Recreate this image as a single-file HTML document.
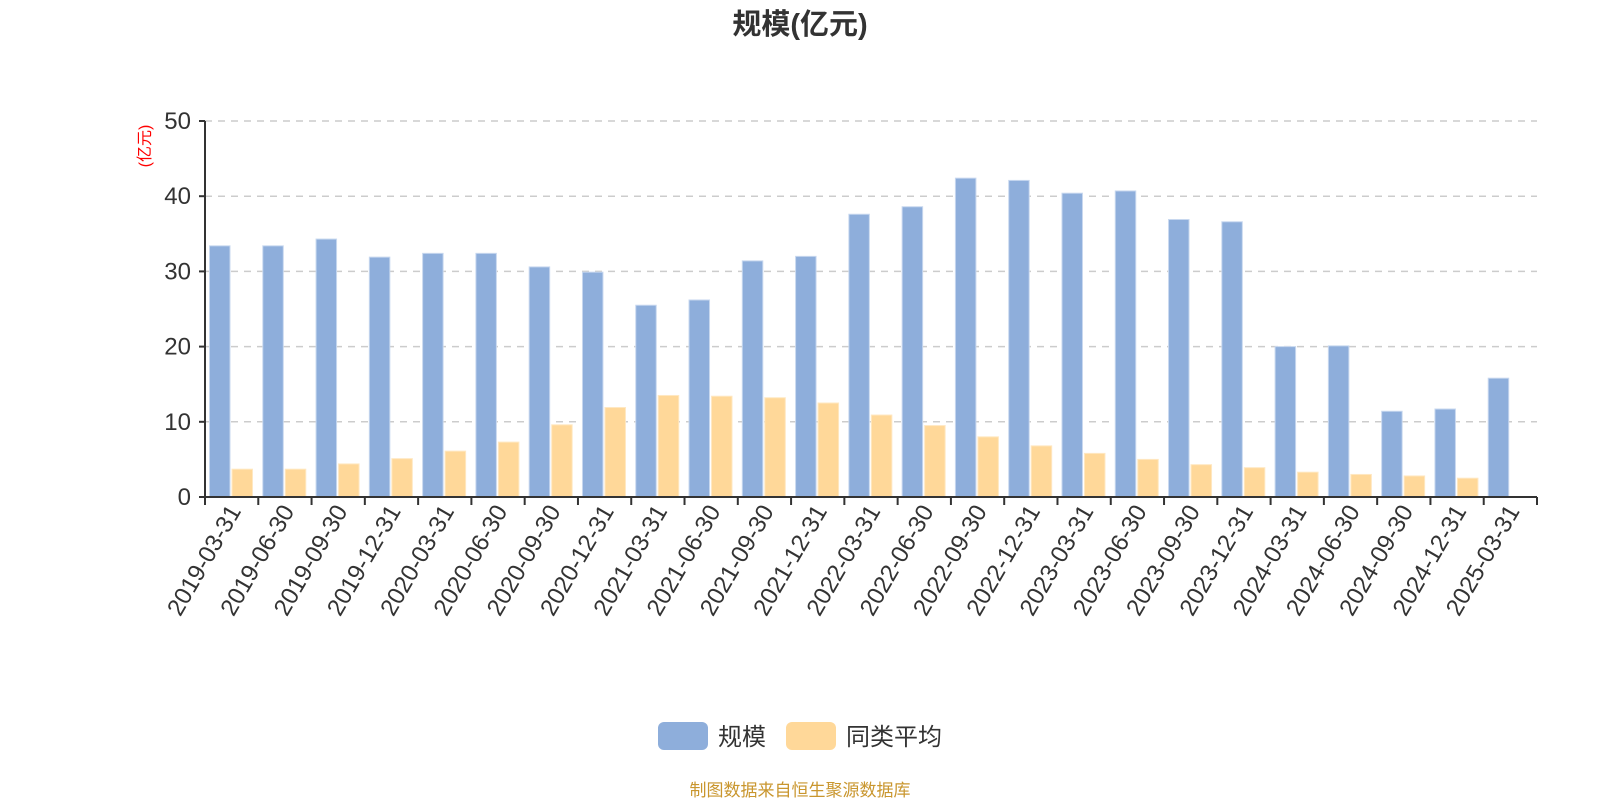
<!DOCTYPE html>
<html><head><meta charset="utf-8"><style>
body{margin:0;background:#fff;width:1600px;height:800px;overflow:hidden;font-family:"Liberation Sans","Noto Sans CJK SC",sans-serif}
</style></head><body>
<svg id="chart" width="1600" height="800" xmlns="http://www.w3.org/2000/svg" font-family="Liberation Sans, Noto Sans CJK SC, sans-serif">
<text x="800" y="34" text-anchor="middle" font-size="29" font-weight="bold" fill="#333">规模(亿元)</text>
<text transform="translate(150,146) rotate(-90)" text-anchor="middle" font-size="16" fill="#ff0000">(亿元)</text>
<g id="grid"></g><g id="bars"></g><g id="axes"></g>
<g>
<g><rect x="658" y="722" width="50" height="28" rx="6" fill="#8eaedb"/><text x="718" y="745" font-size="24" fill="#333">规模</text></g>
<g><rect x="786" y="722" width="50" height="28" rx="6" fill="#ffd899"/><text x="846" y="745" font-size="24" fill="#333">同类平均</text></g>
</g>
<text x="800" y="796" text-anchor="middle" font-size="17" fill="#c9962e">制图数据来自恒生聚源数据库</text>
</svg>
<script>
const categories=["2019-03-31","2019-06-30","2019-09-30","2019-12-31","2020-03-31","2020-06-30","2020-09-30","2020-12-31","2021-03-31","2021-06-30","2021-09-30","2021-12-31","2022-03-31","2022-06-30","2022-09-30","2022-12-31","2023-03-31","2023-06-30","2023-09-30","2023-12-31","2024-03-31","2024-06-30","2024-09-30","2024-12-31","2025-03-31"];
const scaleValues=[33.4,33.4,34.3,31.9,32.4,32.4,30.6,29.9,25.5,26.2,31.4,32.0,37.6,38.6,42.4,42.1,40.4,40.7,36.9,36.6,20.0,20.1,11.4,11.7,15.8];
const avgValues=[3.7,3.7,4.4,5.1,6.1,7.3,9.6,11.9,13.5,13.4,13.2,12.5,10.9,9.5,8.0,6.8,5.8,5.0,4.3,3.9,3.3,3.0,2.8,2.5,null];
const yTicks=[0,10,20,30,40,50];
const NS="http://www.w3.org/2000/svg";
const X0=205,X1=1537,Y0=497,Y1=121,YMAX=50;
const band=(X1-X0)/categories.length;
const y=v=>Y0-(v/YMAX)*(Y0-Y1);
const xb=i=>X0+i*band;
function mk(tag,attrs,parent){const e=document.createElementNS(NS,tag);for(const k in attrs)e.setAttribute(k,attrs[k]);parent.appendChild(e);return e;}
const grid=document.getElementById('grid'),bars=document.getElementById('bars'),axes=document.getElementById('axes');
yTicks.forEach(t=>{
  if(t>0){const l=mk('line',{x1:X0,x2:X1,y1:y(t),y2:y(t),stroke:'#ccc','stroke-width':1.5,'stroke-dasharray':'7,6'},grid);
  
  }
  const tk=mk('line',{x1:X0-6,x2:X0,y1:y(t),y2:y(t),stroke:'#333','stroke-width':2},axes);
  
  
  const tx=mk('text',{x:X0-14,y:y(t)+8,'text-anchor':'end','font-size':24,fill:'#333'},axes);
  tx.textContent=t;
  
  
});
const bw=20.5;
categories.forEach((c,i)=>{
  const s=scaleValues[i];
  if(s!=null){const r=mk('rect',{x:xb(i)+4.5,y:y(s),width:bw,height:Y0-y(s),fill:'#8eaedb',stroke:'#c8d8ef','stroke-width':1},bars);
  
  }
  const a=avgValues[i];
  if(a!=null){const r=mk('rect',{x:xb(i)+4.5+bw+2,y:y(a),width:bw,height:Y0-y(a),fill:'#ffd899',stroke:'#ffe8c2','stroke-width':1},bars);
  
  }
});
for(let i=0;i<=categories.length;i++){
  const tk=mk('line',{x1:xb(i),x2:xb(i),y1:Y0,y2:Y0+8,stroke:'#333','stroke-width':2},axes);
  
  
}
categories.forEach((c,i)=>{
  const cx=xb(i)+band/2;
  const t=mk('text',{transform:`translate(${cx+10},${Y0+14}) rotate(-60)`,'text-anchor':'end','font-size':24,fill:'#333'},axes);
  t.textContent=c;
  
  
});
const xa=mk('line',{x1:X0,x2:X1,y1:Y0,y2:Y0,stroke:'#333','stroke-width':2},axes);


const ya=mk('line',{x1:X0,x2:X0,y1:Y1,y2:Y0,stroke:'#333','stroke-width':2},axes);


</script>
</body></html>
